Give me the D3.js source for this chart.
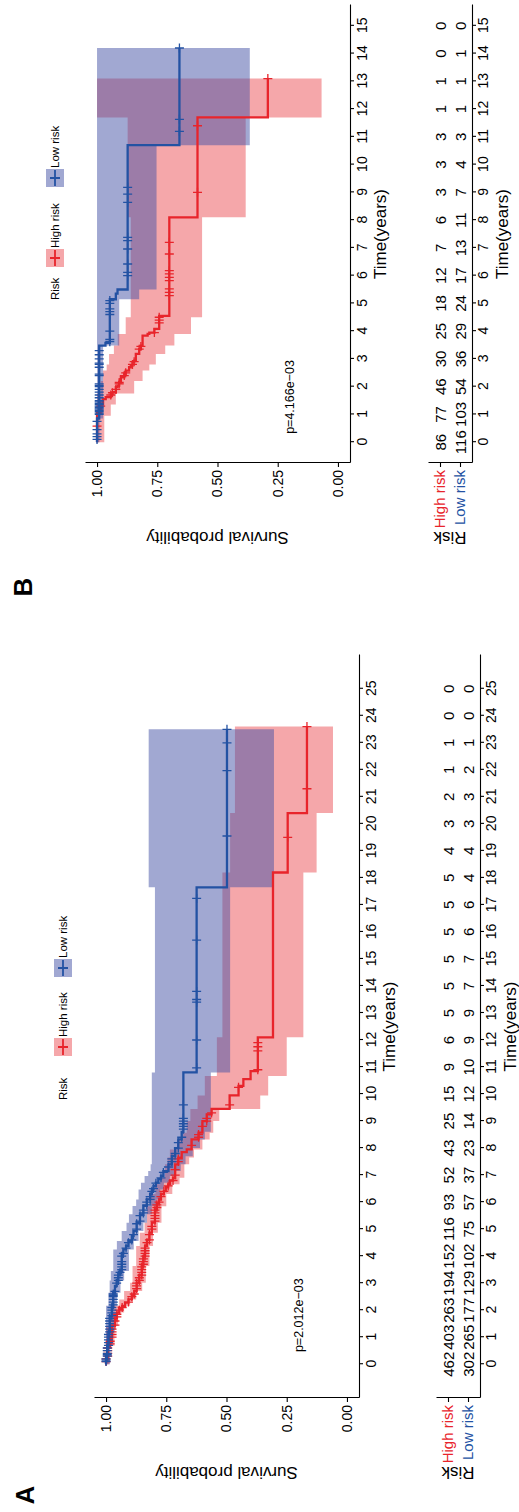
<!DOCTYPE html>
<html>
<head>
<meta charset="utf-8">
<script src="https://cdnjs.cloudflare.com/ajax/libs/d3/7.8.5/d3.min.js"></script>
<style>
  body { margin: 0; background: #fff; }
  svg { display: block; }
  text { font-family: "Liberation Sans", Arial, Helvetica, sans-serif; }
</style>
</head>
<body>
<div id="chart"></div>
<script>
// ---- data ----
const groups = ["High risk", "Low risk"];

// Panel A
const aTicks = [0,1,2,3,4,5,6,7,8,9,10,11,12,13,14,15,16,17,18,19,20,21,22,23,24,25];
const aRiskHigh = [462,403,263,194,152,116,93,52,43,25,15,9,6,5,5,5,5,5,5,4,3,2,1,1,0,0];
const aRiskLow  = [302,265,177,129,102,75,57,37,23,14,12,10,9,9,7,7,6,6,4,4,3,3,2,1,0,0];

const aHighT = [0,0.3,0.68,1.0,1.42,1.7,1.91,2.05,2.16,2.28,2.4,2.55,2.71,3.02,3.3,3.64,4.0,4.38,4.6,4.87,5.24,5.73,5.95,6.1,6.3,6.41,6.55,6.66,6.8,6.9,7.4,7.65,7.85,7.95,8.32,8.57,9.0,9.25,9.45,9.95,10.3,10.55,10.85,12.1,18.2,20.4];
const aHighS = [1,0.993,0.983,0.975,0.963,0.955,0.945,0.933,0.921,0.907,0.893,0.883,0.873,0.862,0.852,0.845,0.838,0.83,0.82,0.81,0.797,0.789,0.78,0.772,0.76,0.752,0.742,0.734,0.722,0.713,0.70,0.686,0.665,0.645,0.616,0.60,0.582,0.562,0.487,0.45,0.43,0.40,0.37,0.307,0.246,0.166];
const aHighEnd = 23.6;
const aHighCiT = [0,0.68,1.42,1.91,2.16,2.4,2.71,3.02,3.64,4.38,4.87,5.24,5.85,6.3,6.66,6.9,7.4,7.65,7.95,8.32,8.57,9.0,9.45,9.95,10.67,12.1,18.2,20.4];
const aHighLo = [0.985,0.965,0.95,0.925,0.9,0.875,0.85,0.835,0.82,0.805,0.785,0.77,0.75,0.725,0.695,0.675,0.655,0.635,0.6,0.57,0.555,0.53,0.36,0.327,0.25,0.181,0.126,0.058];
const aHighUp = [1,1,0.98,0.97,0.945,0.925,0.9,0.89,0.875,0.86,0.84,0.83,0.815,0.795,0.775,0.755,0.745,0.735,0.705,0.68,0.665,0.65,0.62,0.59,0.54,0.517,0.485,0.465];
const aHighCens = [0.1,0.2,0.3,0.4,0.5,0.6,0.75,0.85,1.0,1.1,1.2,1.3,1.45,1.6,1.75,1.85,2.0,2.1,2.3,2.5,2.6,2.8,2.9,3.0,3.1,3.2,3.3,3.4,3.5,3.6,3.7,3.8,3.9,4.0,4.1,4.2,4.3,4.5,4.6,4.8,5.0,5.1,5.3,5.4,5.5,5.6,5.7,5.8,5.9,6.0,6.2,6.4,6.6,6.8,7.0,7.2,7.5,7.6,8.1,8.4,8.5,8.8,9.0,9.1,9.3,9.6,10.25,10.9,11.6,11.75,11.9,19.5,21.3,23.6];

const aLowT = [0,0.3,0.7,1.2,1.79,2.16,2.65,2.9,3.1,3.33,3.45,4.1,4.25,4.38,4.56,4.75,4.93,5.24,5.55,5.86,6.1,6.3,6.47,6.6,6.72,6.85,6.97,7.15,7.4,7.7,8.0,8.32,8.6,10.8,17.65];
const aLowS = [1,0.995,0.99,0.985,0.976,0.97,0.963,0.956,0.949,0.942,0.935,0.928,0.917,0.907,0.893,0.886,0.873,0.859,0.845,0.831,0.817,0.81,0.803,0.793,0.783,0.772,0.762,0.741,0.727,0.713,0.70,0.686,0.679,0.624,0.498];
const aLowEnd = 23.5;
const aLowCiT = [0,0.7,1.2,2.16,2.65,3.1,3.45,4.25,4.56,4.93,5.24,5.55,5.86,6.1,6.47,6.72,6.97,7.15,7.4,7.7,8.0,8.32,8.6,10.8,17.65];
const aLowLo = [0.985,0.975,0.965,0.955,0.94,0.925,0.905,0.885,0.865,0.845,0.83,0.81,0.79,0.775,0.76,0.735,0.71,0.69,0.67,0.64,0.61,0.59,0.565,0.485,0.303];
const aLowUp = [1,1,1,0.99,0.985,0.98,0.97,0.955,0.935,0.915,0.905,0.89,0.875,0.865,0.855,0.84,0.825,0.815,0.81,0.81,0.81,0.81,0.81,0.797,0.823];
const aLowCens = [0.1,0.15,0.2,0.3,0.35,0.4,0.5,0.6,0.7,0.8,0.9,1.0,1.1,1.2,1.3,1.4,1.5,1.6,1.7,1.8,1.9,2.0,2.1,2.2,2.3,2.4,2.5,2.55,2.6,2.7,3.0,3.1,3.2,3.3,3.4,3.5,3.6,3.7,3.8,4.0,4.1,4.3,4.5,4.6,4.8,5.0,5.2,5.3,5.5,5.6,5.7,5.9,6.0,6.1,6.2,6.4,6.5,6.7,6.9,7.1,7.3,7.5,7.6,7.8,8.0,8.2,8.4,8.7,8.8,8.9,9.0,9.1,9.6,10.97,12.0,13.4,13.5,13.8,15.7,17.24,19.55,21.97,23.0,23.5];

// Panel B
const bTicks = [0,1,2,3,4,5,6,7,8,9,10,11,12,13,14,15];
const bRiskHigh = [86,77,46,30,25,18,12,7,6,3,3,3,1,1,0,0];
const bRiskLow  = [116,103,54,36,29,24,17,13,11,7,4,3,1,1,1,0];

const bHighT = [0,1.06,1.36,1.55,1.62,1.74,1.80,1.98,2.04,2.16,2.34,2.46,2.58,2.70,2.76,2.88,2.94,3.18,3.36,3.48,3.84,3.90,3.95,4.08,4.55,8.1,11.7];
const bHighS = [1,0.985,0.975,0.964,0.943,0.936,0.922,0.915,0.908,0.901,0.887,0.881,0.867,0.860,0.853,0.846,0.839,0.825,0.818,0.811,0.790,0.783,0.762,0.742,0.70,0.583,0.291];
const bHighEnd = 13.1;
const bHighCiT = [0,0.95,1.36,1.75,2.2,2.58,2.8,3.18,3.48,3.9,4.5,8.1,11.7];
const bHighLo = [0.97,0.943,0.922,0.846,0.811,0.783,0.756,0.717,0.679,0.61,0.564,0.383,0.068];
const bHighUp = [1,1,1,0.985,0.975,0.96,0.95,0.93,0.914,0.881,0.86,0.873,1];
const bHighCens = [0.58,1.3,1.7,1.78,1.9,2.1,2.15,2.4,2.5,2.8,2.9,3.35,3.45,3.95,4.3,4.4,4.5,5.28,5.4,5.52,5.82,5.94,6.06,6.18,6.78,7.2,9.0,11.4,13.1];

const bLowT = [0,0.85,3.48,3.58,5.15,5.35,5.5,10.7];
const bLowS = [1,0.991,0.965,0.947,0.922,0.915,0.873,0.658];
const bLowEnd = 14.2;
const bLowCiT = [0,0.85,3.48,5.15,5.5,10.7];
const bLowLo = [0.99,0.975,0.908,0.825,0.753,0.366];
const bLowUp = [1,1,1,1,1,1];
const bLowCens = [0.1,0.2,0.3,0.45,0.75,1.0,1.05,1.1,1.15,1.2,1.25,1.3,1.35,1.4,1.45,1.5,1.6,1.7,1.8,1.9,2.0,2.05,2.1,2.4,2.45,2.7,2.8,2.85,3.0,3.15,3.3,3.62,3.7,4.0,4.6,4.7,4.8,5.0,5.1,6.0,6.12,6.42,6.96,7.26,7.38,8.64,8.94,9.18,11.2,11.63,14.2];

const survTicks = [0, 0.25, 0.5, 0.75, 1];

// ---- drawing ----
const lineCol = { "High risk": "#E8242B", "Low risk": "#2352A3" };
const fillCol = { "High risk": "#EB4F55", "Low risk": "#4351A5" };

const svg = d3.select("#chart").append("svg").attr("width", 519).attr("height", 1512);
// the whole figure is drawn landscape, then turned a quarter turn
const fig = svg.append("g").attr("transform", "translate(0,1512) rotate(-90)");

function stepAt(T, S, t) {
  const i = d3.bisectRight(T, t) - 1;
  return S[Math.max(0, i)];
}

function styleAxis(sel, size) {
  sel.selectAll("path, line").attr("stroke", "#000").attr("stroke-width", 1.1);
  sel.selectAll("text").attr("font-size", size).attr("fill", "#000")
     .attr("font-family", "'Liberation Sans', Arial, sans-serif");
}

function panel(o) {
  const g = fig.append("g");
  const x = d3.scaleLinear().domain(o.tDom).range(o.xRange);
  const y = d3.scaleLinear().domain([-0.05, 1.05]).range([o.plotBottom, o.plotTop]);

  // confidence bands
  o.series.forEach(s => {
    const pts = s.ciT.map((t, i) => [t, s.lo[i], s.up[i]]);
    pts.push([s.end, s.lo[s.lo.length - 1], s.up[s.up.length - 1]]);
    g.append("path")
      .attr("d", d3.area().curve(d3.curveStepAfter)
        .x(d => x(d[0])).y0(d => y(d[1])).y1(d => y(d[2]))(pts))
      .attr("fill", fillCol[s.name]).attr("fill-opacity", 0.5);
  });

  // survival steps + censor marks
  o.series.forEach(s => {
    const pts = s.T.map((t, i) => [t, s.S[i]]);
    pts.push([s.end, s.S[s.S.length - 1]]);
    g.append("path")
      .attr("d", d3.line().curve(d3.curveStepAfter).x(d => x(d[0])).y(d => y(d[1]))(pts))
      .attr("fill", "none").attr("stroke", lineCol[s.name]).attr("stroke-width", 2.3);
    g.append("g").selectAll("path").data(s.cens).join("path")
      .attr("d", c => {
        const cx = x(c), cy = y(stepAt(s.T, s.S, c));
        return `M${cx - 4.5},${cy}H${cx + 4.5}M${cx},${cy - 4.5}V${cy + 4.5}`;
      })
      .attr("stroke", lineCol[s.name]).attr("stroke-width", 1.3);
  });

  // axes of the plot
  g.append("g").attr("transform", `translate(0,${o.plotBottom})`)
    .call(d3.axisBottom(x).tickValues(o.ticks).tickSize(4).tickPadding(3).tickSizeOuter(0))
    .call(styleAxis, 14);
  g.append("g").attr("transform", `translate(${o.xRange[0]},0)`)
    .call(d3.axisLeft(y).tickValues(survTicks).tickFormat(d3.format(".2f")).tickSize(4).tickPadding(3).tickSizeOuter(0))
    .call(styleAxis, 14);

  const cx = (o.xRange[0] + o.xRange[1]) / 2;
  g.append("text").attr("x", cx).attr("y", o.plotBottom + 30).attr("text-anchor", "middle")
    .attr("dominant-baseline", "central").attr("font-size", 17).text("Time(years)");
  g.append("text").attr("transform", `translate(${o.yTitleX},${(o.plotTop + o.plotBottom) / 2}) rotate(-90)`)
    .attr("text-anchor", "middle").attr("dominant-baseline", "central").attr("font-size", 17)
    .text("Survival probability");

  g.append("text").attr("x", x(o.pval.t)).attr("y", y(o.pval.s)).attr("dominant-baseline", "central")
    .attr("font-size", 12.5).text(o.pval.label);

  // legend
  const lg = g.append("g").attr("transform", `translate(0,${o.legY})`);
  lg.append("text").attr("x", o.legX[0]).attr("y", 0).attr("dominant-baseline", "central")
    .attr("font-size", 11.5).text("Risk");
  groups.forEach((name, i) => {
    const kx = o.legX[1 + i * 2];
    lg.append("rect").attr("x", kx - 9).attr("y", -9).attr("width", 18).attr("height", 18)
      .attr("fill", fillCol[name]).attr("fill-opacity", 0.5);
    lg.append("path").attr("d", `M${kx - 8},0H${kx + 8}M${kx},-5V5`)
      .attr("stroke", lineCol[name]).attr("stroke-width", 1.8);
    lg.append("text").attr("x", o.legX[2 + i * 2]).attr("y", 0).attr("dominant-baseline", "central")
      .attr("font-size", 11.5).text(name);
  });

  // number-at-risk table
  const rows = d3.scalePoint().domain(groups).range([o.tableTop, o.tableBottom]).padding(0.6);
  g.append("g").attr("transform", `translate(0,${o.tableBottom})`)
    .call(d3.axisBottom(x).tickValues(o.ticks).tickSize(4).tickPadding(2).tickSizeOuter(0))
    .call(styleAxis, 14);
  const ly = g.append("g").attr("transform", `translate(${o.xRange[0]},0)`)
    .call(d3.axisLeft(rows).tickSize(4).tickPadding(3).tickSizeOuter(0))
    .call(styleAxis, 15);
  ly.selectAll(".tick text").attr("fill", d => lineCol[d]);

  o.risk.forEach((vals, gi) => {
    g.append("g").selectAll("text").data(vals).join("text")
      .attr("x", (v, i) => x(o.ticks[i])).attr("y", rows(groups[gi]))
      .attr("text-anchor", "middle").attr("dominant-baseline", "central")
      .attr("font-size", 15).text(v => v);
  });
  g.append("text").attr("x", cx).attr("y", o.tableBottom + 30).attr("text-anchor", "middle")
    .attr("dominant-baseline", "central").attr("font-size", 17).text("Time(years)");
  g.append("text").attr("transform", `translate(${o.yTitleX},${(o.tableTop + o.tableBottom) / 2}) rotate(-90)`)
    .attr("text-anchor", "middle").attr("dominant-baseline", "central").attr("font-size", 17)
    .text("Risk");

  g.append("text").attr("x", o.letter.x).attr("y", o.letter.y).attr("text-anchor", "middle")
    .attr("dominant-baseline", "central").attr("font-size", 26).attr("font-weight", "bold")
    .text(o.letter.label);
}

panel({
  tDom: [-1.25, 26.25], xRange: [114, 857], plotTop: 94, plotBottom: 359,
  tableTop: 436, tableBottom: 480, yTitleX: 40, ticks: aTicks,
  legY: 63, legX: [412, 465, 475, 544, 554],
  pval: { t: 0.45, s: 0.2, label: "p=2.012e\u221203" },
  letter: { label: "A", x: 17, y: 25 },
  risk: [aRiskHigh, aRiskLow],
  series: [
    { name: "High risk", T: aHighT, S: aHighS, end: aHighEnd, ciT: aHighCiT, lo: aHighLo, up: aHighUp, cens: aHighCens },
    { name: "Low risk", T: aLowT, S: aLowS, end: aLowEnd, ciT: aLowCiT, lo: aLowLo, up: aLowUp, cens: aLowCens }
  ]
});

panel({
  tDom: [-0.75, 15.75], xRange: [1049, 1507], plotTop: 85, plotBottom: 350,
  tableTop: 428, tableBottom: 472, yTitleX: 975, ticks: bTicks,
  legY: 55, legX: [1212, 1254, 1264, 1334, 1344],
  pval: { t: 0.3, s: 0.2, label: "p=4.166e\u221203" },
  letter: { label: "B", x: 925, y: 23 },
  risk: [bRiskHigh, bRiskLow],
  series: [
    { name: "High risk", T: bHighT, S: bHighS, end: bHighEnd, ciT: bHighCiT, lo: bHighLo, up: bHighUp, cens: bHighCens },
    { name: "Low risk", T: bLowT, S: bLowS, end: bLowEnd, ciT: bLowCiT, lo: bLowLo, up: bLowUp, cens: bLowCens }
  ]
});
</script>
</body>
</html>
